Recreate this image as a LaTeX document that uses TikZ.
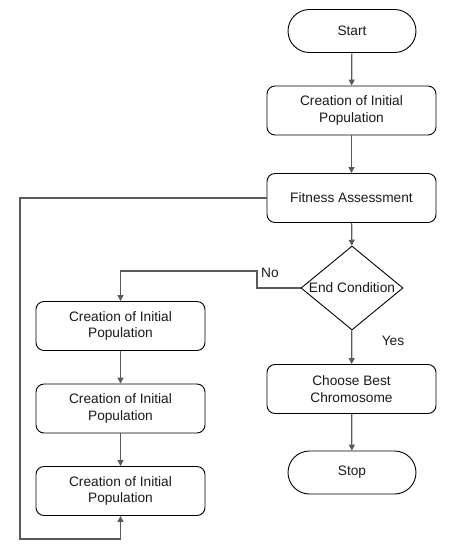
\documentclass[tikz,border=0pt]{standalone}
\usepackage{fontspec}
\setmainfont{Liberation Sans}
\usetikzlibrary{shapes.geometric,arrows.meta}
\definecolor{conn}{HTML}{5A5A5A}
\definecolor{txt}{HTML}{1A1A1A}
\begin{document}
\begin{tikzpicture}[x=1pt,y=-1pt,
  every node/.style={font=\fontsize{13.7}{16.5}\selectfont, text=txt, align=center},
  procbox/.style={draw=black, line width=0.9pt, rounded corners=8pt, minimum width=169pt, minimum height=49pt, inner sep=0pt},
  termbox/.style={draw=black, line width=0.9pt, rounded corners=21.5pt, minimum width=128pt, minimum height=43pt, inner sep=0pt},
  decbox/.style={draw=black, line width=0.9pt, diamond, minimum width=102pt, minimum height=84pt, inner sep=0pt},
  arr/.style={draw=conn, line width=1.2pt, -{Triangle[width=6pt,length=6pt]}},
  lin/.style={draw=conn, line width=1.2pt}]
\useasboundingbox[fill=white] (0,0) rectangle (454,550);
\node[termbox] (start) at (352,31) {Start};
\node[procbox] (init) at (351.5,110.5) {Creation of Initial\\Population};
\node[procbox] (fit) at (351.5,198) {Fitness Assessment};
\node[decbox] (dec) at (352,288) {};
\node (dectxt) at (352,288) {End Condition};
\node[procbox] (best) at (351.5,389) {Choose Best\\Chromosome};
\node[termbox] (stop) at (352,472.5) {Stop};
\node[procbox] (a) at (120.5,326) {Creation of Initial\\Population};
\node[procbox] (b) at (120.5,408.5) {Creation of Initial\\Population};
\node[procbox] (c) at (120.5,491) {Creation of Initial\\Population};
\coordinate (nobend) at (257,271);
\coordinate (loopbend) at (20,539);
\node (no) at (270,273) {No};
\node (yes) at (393,341) {Yes};
\draw[arr] (start) -- (init);
\draw[arr] (init) -- (fit);
\draw[arr] (fit) -- (dec);
\draw[arr] (dec) -- (best);
\draw[arr] (best) -- (stop);
\draw[arr] (dec.west) -| (nobend) -| (a.north);
\draw[arr] (a) -- (b);
\draw[arr] (b) -- (c);
\draw[arr] (fit.west) -| (loopbend) -| (c.south);
\end{tikzpicture}
\end{document}
